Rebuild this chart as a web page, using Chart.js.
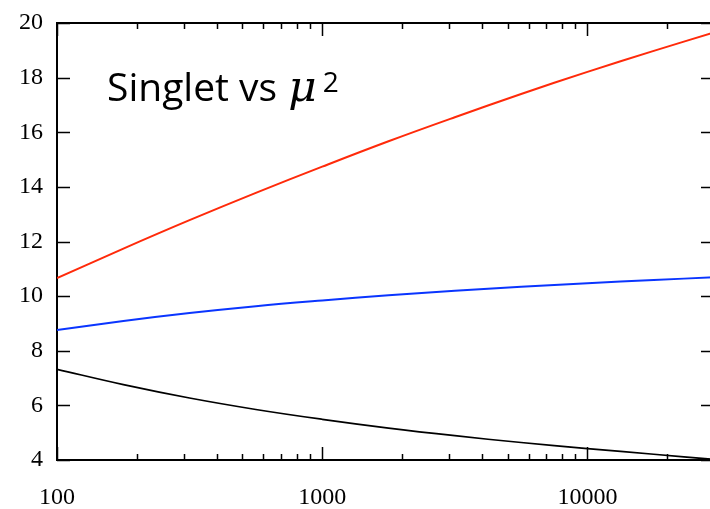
<!DOCTYPE html>
<html>
<head>
<meta charset="utf-8">
<script src="https://cdn.jsdelivr.net/npm/chart.js@4/dist/chart.umd.min.js"></script>
<style>
  html, body { margin: 0; padding: 0; background: #fff; overflow: hidden; }
  #wrap { position: relative; width: 716px; height: 509px; }
  #title {
    position: absolute; left: 107px; top: 66px;
    font-family: "Open Sans", sans-serif; font-size: 39px; line-height: 39px;
    color: #000; white-space: nowrap;
  }
  #title i { font-family: "DejaVu Serif", serif; font-size: 1.12em; margin-left: 1px; }
  #title sup { font-size: 0.72em; position: relative; top: -0.14em; vertical-align: top; margin-left: 6px; }
</style>
</head>
<body>
<div id="wrap">
  <canvas id="chart"></canvas>
  <div id="title">Singlet vs <i>μ</i><sup>2</sup></div>
</div>
<script>
// mu^2 sample points (log axis)
const muSq = [100, 178, 316, 562, 1000, 1778, 3162, 5623, 10000, 17783, 30000];
const redVals = [10.66, 11.74, 12.78, 13.78, 14.74, 15.67, 16.55, 17.40, 18.21, 18.98, 19.65];
const blueVals = [8.76, 9.09, 9.38, 9.63, 9.84, 10.03, 10.20, 10.34, 10.47, 10.59, 10.69];
const blackVals = [7.32, 6.76, 6.27, 5.85, 5.49, 5.17, 4.89, 4.64, 4.42, 4.21, 4.02];

const xTicks = [100, 200, 300, 400, 500, 600, 700, 800, 900, 1000, 2000, 3000, 4000, 5000, 6000, 7000, 8000, 9000, 10000, 20000];
const xLabels = [100, 1000, 10000];
const yTicks = [4, 6, 8, 10, 12, 14, 16, 18, 20];

const tickFont = { family: "'Liberation Serif', 'Times New Roman', serif", size: 24 };

const toPts = vals => muSq.map((m, i) => ({ x: m, y: vals[i] }));

// ticks point inward on all four sides, drawn from the scales
const inwardTicks = {
    id: "inwardTicks",
    afterDraw(chart) {
        const { ctx, chartArea: a } = chart;
        const x = chart.scales.x, y = chart.scales.y;
        ctx.save();
        ctx.strokeStyle = "#000";
        ctx.lineWidth = 2;
        ctx.beginPath();
        ctx.moveTo(a.left - 1, a.top);
        ctx.lineTo(a.right, a.top);
        ctx.moveTo(a.right, a.top);
        ctx.lineTo(a.right, a.bottom);
        ctx.stroke();
        ctx.lineWidth = 1.5;
        ctx.beginPath();
        x.ticks.forEach(t => {
            const px = Math.round(x.getPixelForValue(t.value)) + 0.5;
            const len = xLabels.includes(t.value) ? 13 : 6;
            ctx.moveTo(px, a.bottom);
            ctx.lineTo(px, a.bottom - len);
            ctx.moveTo(px, a.top);
            ctx.lineTo(px, a.top + len);
        });
        y.ticks.forEach(t => {
            const py = Math.round(y.getPixelForValue(t.value)) + 0.5;
            ctx.moveTo(a.left, py);
            ctx.lineTo(a.left + 13, py);
            ctx.moveTo(a.right, py);
            ctx.lineTo(a.right - 13, py);
        });
        ctx.stroke();
        ctx.restore();
    }
};

new Chart(document.getElementById("chart"), {
    type: "line",
    data: {
        datasets: [
            { data: toPts(redVals), borderColor: "#ff2a0a", borderWidth: 2 },
            { data: toPts(blueVals), borderColor: "#0a35ff", borderWidth: 2 },
            { data: toPts(blackVals), borderColor: "#000000", borderWidth: 1.7 }
        ]
    },
    options: {
        responsive: true,
        maintainAspectRatio: false,
        animation: false,
        layout: { padding: { top: 23, right: 2, left: 0, bottom: 0 } },
        elements: {
            point: { radius: 0 },
            line: { tension: 0.4, fill: false }
        },
        plugins: { legend: { display: false }, tooltip: { enabled: false } },
        scales: {
            x: {
                type: "logarithmic",
                min: 100,
                max: 30000,
                grid: { display: false },
                border: { display: true, color: "#000", width: 2 },
                afterBuildTicks: s => { s.ticks = xTicks.map(v => ({ value: v })); },
                afterFit: s => { s.height = 49; },
                ticks: {
                    autoSkip: false,
                    maxRotation: 0,
                    padding: 15,
                    color: "#000",
                    font: tickFont,
                    callback: v => xLabels.includes(v) ? String(v) : ""
                }
            },
            y: {
                min: 4,
                max: 20,
                grid: { display: false },
                border: { display: true, color: "#000", width: 2 },
                afterBuildTicks: s => { s.ticks = yTicks.map(v => ({ value: v })); },
                afterFit: s => { s.width = 57; },
                ticks: { padding: 6, color: "#000", font: tickFont }
            }
        }
    },
    plugins: [inwardTicks]
});
</script>
</body>
</html>
